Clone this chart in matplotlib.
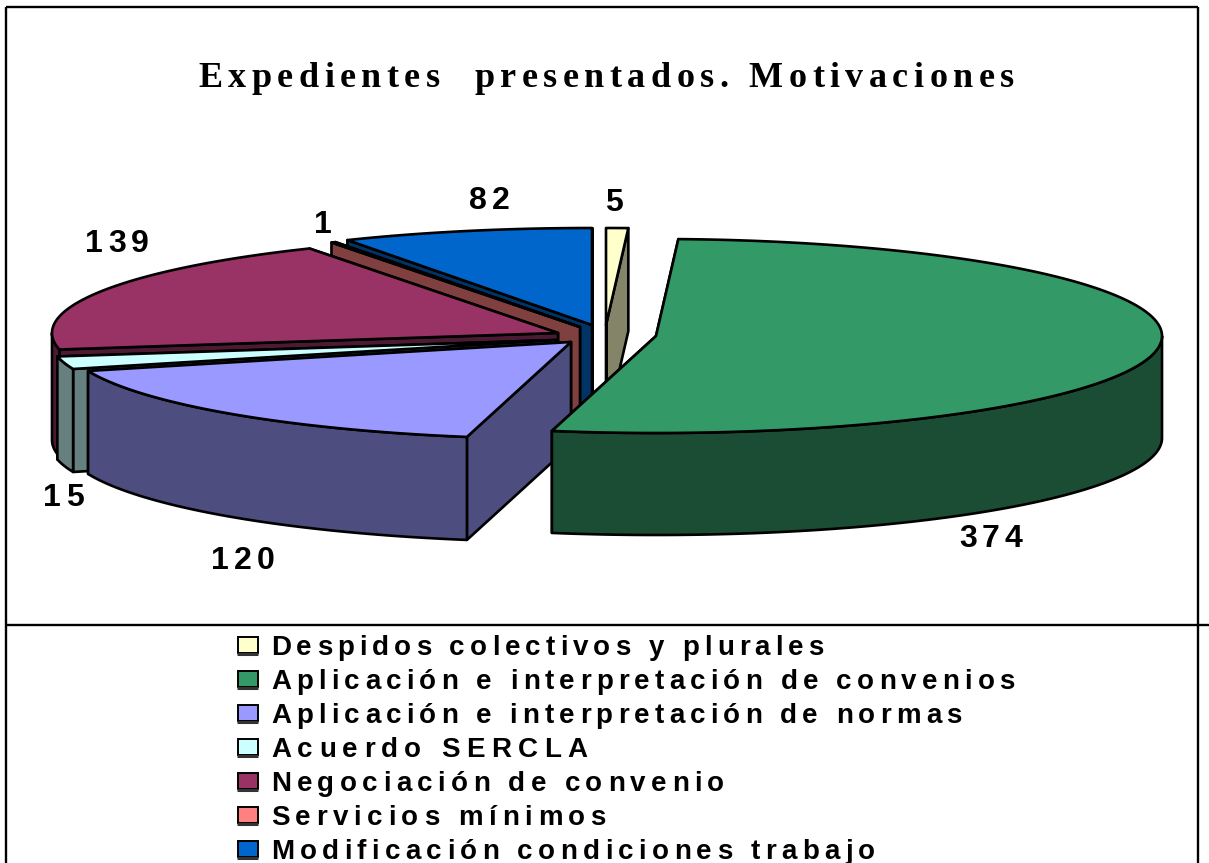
import numpy as np
import matplotlib
matplotlib.use("Agg")
import matplotlib.pyplot as plt
from matplotlib.patches import Polygon, Rectangle
from matplotlib.text import Text
from matplotlib.transforms import Bbox
from matplotlib import font_manager as fm
from matplotlib.ft2font import LoadFlags

# ---------- data ----------
categories = ["Despidos colectivos y plurales",
              "Aplicación e interpretación de convenios",
              "Aplicación e interpretación de normas",
              "Acuerdo SERCLA",
              "Negociación de convenio",
              "Servicios mínimos",
              "Modificación condiciones trabajo"]
values = [5, 374, 120, 15, 139, 1, 82]
title = "Expedientes  presentados. Motivaciones"

# ---------- style ----------
top_colors = ["#FFFFCC", "#339966", "#9999FF", "#CCFFFF", "#993366", "#FF8080", "#0066CC"]
side_colors = ["#848468", "#1B4D34", "#4D4D80", "#668080", "#4D1A33", "#804040", "#003366"]
# apex of every exploded slice in figure pixels, its thickness, painter's order
apex_x = [606, 656, 571, 556, 558, 580, 592]
apex_y = [325, 336, 342, 340, 333, 327, 325]
depth = [103, 102, 103, 103, 107, 103, 103]
paint_order = [0, 6, 5, 4, 3, 2, 1]
RX, RY = 506, 97
WARP = 1.035          # the original's perspective stretches the angles slightly
label_pos = [(605, 211), (959, 547), (211, 569), (43, 506), (85, 252), (314, 233), (469, 209)]
label_spacing = 5.2

W, H = 1209, 863
DPI = 100
LW = 1.9


class SpacedText(Text):
    """Single-line text with letter spacing; the artist keeps its whole string."""

    def __init__(self, x, y, text, target_width=None, spacing=0.0, **kw):
        super().__init__(x, y, text, ha="left", va="baseline", **kw)
        self._target_width = target_width
        self._spacing = spacing

    def _advances(self, dpi):
        font = fm.get_font(fm.findfont(self.get_fontproperties()))
        font.set_size(self.get_fontsize(), dpi)
        adv = []
        for ch in self.get_text():
            g = font.load_char(ord(ch), flags=LoadFlags.NO_HINTING)
            adv.append(g.linearHoriAdvance / 65536)
        return adv

    def _step(self, dpi):
        adv = self._advances(dpi)
        if self._target_width is not None and len(adv) > 1:
            sp = (self._target_width - sum(adv)) / (len(adv) - 1)
        else:
            sp = self._spacing
        return adv, sp

    def draw(self, renderer):
        if not self.get_visible():
            return
        dpi = self.get_figure().dpi
        adv, sp = self._step(dpi)
        x, y = self.get_transform().transform(self.get_position())
        gc = renderer.new_gc()
        gc.set_foreground(self.get_color())
        gc.set_alpha(self.get_alpha())
        y_r = renderer.height - y
        for ch, a in zip(self.get_text(), adv):
            if ch != " ":
                renderer.draw_text(gc, x, y_r, ch, self.get_fontproperties(), 0)
            x += a + sp
        gc.restore()

    def get_window_extent(self, renderer=None, dpi=None):
        dpi = dpi or self.get_figure().dpi
        adv, sp = self._step(dpi)
        x, y = self.get_transform().transform(self.get_position())
        px = self.get_fontsize() * dpi / 72
        return Bbox([[x, y - 0.21 * px], [x + sum(adv) + sp * (len(adv) - 1), y + 0.75 * px]])


fig = plt.figure(figsize=(W / DPI, H / DPI), dpi=DPI, facecolor="white")
ax = fig.add_axes([0, 0, 1, 1])
ax.set_xlim(0, W)
ax.set_ylim(H, 0)
ax.axis("off")


def rim(cx, cy, a):
    a = np.radians(a)
    return np.column_stack([cx + RX * np.sin(a), cy - RY * np.cos(a)])


def poly(pts, color, z):
    ax.add_patch(Polygon(pts, closed=True, facecolor=color, edgecolor="black",
                         linewidth=LW, joinstyle="round", zorder=z))


# cumulative clock angles from twelve o'clock, from the values
bounds = np.concatenate([[0], np.cumsum(values)]) / np.sum(values) * 360
bounds = np.minimum(bounds * WARP, 360)

z = 2
for i in paint_order:
    a0, a1 = bounds[i], bounds[i + 1]
    cx, cy, d = apex_x[i], apex_y[i], depth[i]
    apex = np.array([[cx, cy]])
    down = np.array([0, d])
    # radial walls
    for a in (a1, a0):
        p = rim(cx, cy, np.array([a]))
        poly(np.vstack([apex, p, p + down, apex + down]), side_colors[i], z)
        z += 0.01
    # outer wall, only the front half of the rim shows
    f0, f1 = max(a0, 90), min(a1, 270)
    if f1 > f0:
        arc = rim(cx, cy, np.linspace(f0, f1, 120))
        poly(np.vstack([arc, (arc + down)[::-1]]), side_colors[i], z)
        z += 0.01
    # top face
    arc = rim(cx, cy, np.linspace(a0, a1, 240))
    poly(np.vstack([apex, arc]), top_colors[i], z)
    z += 0.01

# frame
frame = dict(color="black", linewidth=1.7, solid_capstyle="butt", zorder=1)
ax.plot([6, 6], [7, H], **frame)
ax.plot([1198, 1198], [7, H], **frame)
ax.plot([6, 1198], [7, 7], **frame)
ax.plot([6, W], [625, 625], **frame)

# title
ax.add_artist(SpacedText(198, 87, title, target_width=816, color="black",
                         fontfamily="Liberation Serif", fontweight="bold", fontsize=26))

# value labels
for v, (lx, ly) in zip(values, label_pos):
    ax.add_artist(SpacedText(lx, ly, str(v), spacing=label_spacing, color="black",
                             fontfamily="Liberation Sans", fontweight="bold", fontsize=23))

# legend
legend_widths = [553, 744, 691, 316, 453, 335, 604]
for k, (name, col, tw) in enumerate(zip(categories, top_colors, legend_widths)):
    yb = 655 + 34 * k
    ax.add_patch(Rectangle((237.5, yb - 18), 20, 16, facecolor=col, edgecolor="black",
                           linewidth=1.4, zorder=5))
    ax.plot([237, 258], [yb - 1, yb - 1], color="#333333", linewidth=2.2,
            solid_capstyle="butt", zorder=6)
    ax.add_artist(SpacedText(271, yb, name, target_width=tw, color="black",
                             fontfamily="Liberation Sans", fontweight="bold", fontsize=20))

fig.savefig("out.png", dpi=DPI, facecolor="white")
